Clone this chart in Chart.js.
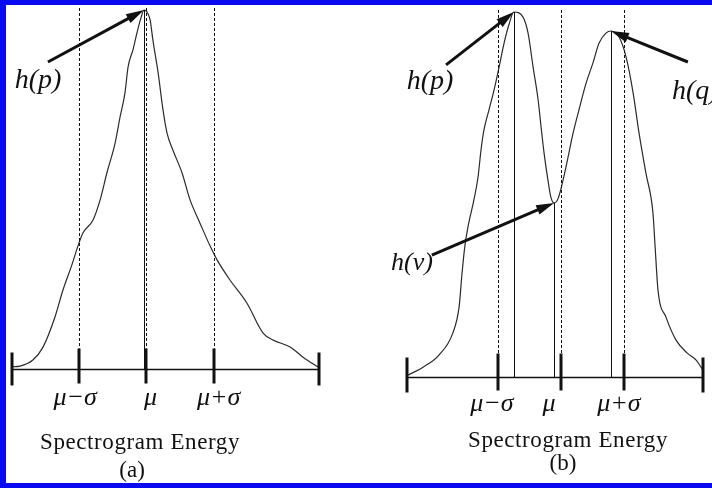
<!DOCTYPE html>
<html>
<head>
<meta charset="utf-8">
<script src="https://cdn.jsdelivr.net/npm/chart.js@4.4.1/dist/chart.umd.min.js"></script>
<style>
  html, body { margin: 0; padding: 0; background: #fff; }
  #frame { position: relative; width: 712px; height: 488px; overflow: hidden; background: #fff; }
  #frame canvas { position: absolute; top: 0; }
  #edge { position: absolute; left: 0; top: 0; width: 712px; height: 488px; box-sizing: border-box;
          border-style: solid; border-color: #0a0af0; border-width: 5px 0 5px 6px; pointer-events: none; }
</style>
</head>
<body>
<div id="frame">
  <canvas id="panelA" width="356" height="488" style="left:0"></canvas>
  <canvas id="panelB" width="356" height="488" style="left:356px"></canvas>
  <div id="edge"></div>
</div>
<script>
// ---- (a) unimodal spectrogram-energy histogram ----
const energyA = [0, 2.6, 6.8, 10.1, 14.0, 16.6, 19.5, 21.5, 23.1, 26.4, 28.7, 30.9, 33.6, 35.2, 36.8,
                 37.8, 39.4, 40.7, 42.0, 43.0, 44.0, 45.0, 45.9, 47.6, 49.2, 50.5, 52.4, 55.4, 58.0,
                 61.2, 64.5, 66.8, 71.0, 76.5, 81.8, 85.0, 90.6, 94.8, 100];
const countA  = [0.6, 0.8, 2.5, 6.1, 14.5, 22.0, 29.0, 34.3, 37.9, 41.5, 47.1, 54.6, 63.0, 70.2, 76.9,
                 84.1, 88.9, 93.6, 97.8, 100, 99.4, 97.2, 91.6, 82.5, 72.1, 65.7, 61.0, 54.6, 47.1,
                 40.7, 34.3, 30.4, 24.8, 18.4, 10.0, 8.1, 6.1, 3.3, 0.4];
const muA = 43.8, sigmaA = 21.9;
const markLabelsA = ['h(p)'];
const markXA = [43.0];
const markYA = [100];

// ---- (b) bimodal spectrogram-energy histogram ----
const energyB = [0.3, 5.4, 10.8, 15.5, 17.6, 18.6, 19.6, 20.6, 22.6, 24.0, 25.0, 26.0, 27.7, 29.4, 31.1,
                 32.8, 34.5, 36.1, 39.2, 40.9, 42.6, 44.3, 45.3, 46.3, 47.6, 48.6, 49.7, 51.0, 53.7,
                 56.1, 58.1, 60.5, 62.8, 64.9, 67.2, 68.9, 71.6, 74.0, 76.4, 78.4, 80.7, 83.1, 83.8,
                 84.8, 87.5, 90.9, 94.6, 97.6, 100];
const countB  = [0.5, 2.7, 6.0, 12.1, 19.2, 28.5, 36.2, 41.1, 48.5, 54.8, 62.2, 67.7, 73.2, 78.6, 84.9,
                 91.5, 96.7, 100, 98.6, 94.2, 84.9, 75.9, 68.5, 61.4, 54.0, 49.3, 47.7, 48.8, 57.5,
                 66.8, 73.2, 80.5, 86.0, 91.5, 94.2, 94.8, 93.2, 87.7, 77.8, 66.8, 55.9, 44.9, 36.0,
                 23.8, 16.4, 10.1, 6.6, 4.7, 1.9];
const muB = 52.0, sigmaB = 21.3;
const markLabelsB = ['h(p)', 'h(v)', 'h(q)'];
const markXB = [36.1, 49.7, 68.9];
const markYB = [100, 47.7, 94.8];

const tickLabels = ['\u03BC\u2212\u03C3', '\u03BC', '\u03BC+\u03C3'];
const axisTitle = 'Spectrogram Energy';

const SERIF = '"Liberation Serif", "Times New Roman", serif';

// Draws the energy axis, mean/sigma guides, drop lines and labelled arrows.
const diagramPlugin = {
  id: 'diagram',
  afterDatasetsDraw(chart, args, o) {
    const { ctx, chartArea } = chart;
    const xs = chart.scales.x, ys = chart.scales.y;
    const X = v => xs.getPixelForValue(v);
    const Y = v => ys.getPixelForValue(v);
    const axisY = Math.round(Y(0)) + 0.5;
    const sharp = v => Math.round(v) + 0.5;
    const guides = [o.mu - o.sigma, o.mu, o.mu + o.sigma];

    ctx.save();
    ctx.strokeStyle = '#111';
    ctx.fillStyle = '#111';

    // dashed guides at mu - sigma, mu, mu + sigma
    ctx.lineWidth = 1;
    ctx.setLineDash([3, 2]);
    guides.forEach(g => {
      const px = sharp(X(g));
      ctx.beginPath();
      ctx.moveTo(px, chartArea.top - 2);
      ctx.lineTo(px, axisY - o.tickUp);
      ctx.stroke();
    });
    ctx.setLineDash([]);

    // solid drop lines from the marked bins to the axis
    o.markX.forEach((mx, i) => {
      const px = sharp(X(mx));
      ctx.beginPath();
      ctx.moveTo(px, Y(o.markY[i]));
      ctx.lineTo(px, axisY);
      ctx.stroke();
    });

    // energy axis
    ctx.lineWidth = 1.5;
    ctx.beginPath();
    ctx.moveTo(X(xs.min), axisY);
    ctx.lineTo(X(xs.max), axisY);
    ctx.stroke();

    // end stops and sigma ticks
    ctx.lineWidth = 3;
    [xs.min, xs.max].forEach(v => {
      const px = Math.round(X(v));
      ctx.beginPath();
      ctx.moveTo(px, axisY - o.endUp);
      ctx.lineTo(px, axisY + o.endDown);
      ctx.stroke();
    });
    guides.forEach(g => {
      const px = Math.round(X(g));
      ctx.beginPath();
      ctx.moveTo(px, axisY - o.tickUp);
      ctx.lineTo(px, axisY + o.tickDown);
      ctx.stroke();
    });

    // tick labels
    ctx.textAlign = 'center';
    ctx.textBaseline = 'middle';
    ctx.font = 'italic 26px ' + SERIF;
    guides.forEach((g, i) => {
      ctx.fillText(tickLabels[i], X(g) + o.labelShift[i], axisY + o.labelGap);
    });

    // axis title and panel letter
    ctx.font = '23px ' + SERIF;
    ctx.letterSpacing = '0.6px';
    ctx.fillText(axisTitle, X(o.titleX), axisY + o.titleGap);
    ctx.letterSpacing = '0px';
    ctx.fillText(o.letter, X(o.letterX), axisY + o.letterGap);

    // labelled arrows pointing at the marked bins
    o.arrows.forEach(a => {
      const hx = X(o.markX[a.mark]), hy = Y(o.markY[a.mark]);
      const tx = X(a.tail[0]), ty = Y(a.tail[1]);
      const ang = Math.atan2(hy - ty, hx - tx);
      const len = 18, half = 5;
      const bx = hx - len * Math.cos(ang), by = hy - len * Math.sin(ang);
      ctx.lineWidth = 3;
      ctx.beginPath();
      ctx.moveTo(tx, ty);
      ctx.lineTo(bx + 2 * Math.cos(ang), by + 2 * Math.sin(ang));
      ctx.stroke();
      ctx.beginPath();
      ctx.moveTo(hx, hy);
      ctx.lineTo(bx + half * Math.sin(ang), by - half * Math.cos(ang));
      ctx.lineTo(bx - half * Math.sin(ang), by + half * Math.cos(ang));
      ctx.closePath();
      ctx.fill();

      ctx.font = 'italic ' + a.size + 'px ' + SERIF;
      ctx.textAlign = a.align;
      ctx.textBaseline = 'middle';
      ctx.fillText(o.markLabels[a.mark], X(a.label[0]), Y(a.label[1]));
    });

    ctx.restore();
  }
};

function makePanel(id, energy, count, padding, diagram) {
  return new Chart(document.getElementById(id), {
    type: 'line',
    data: {
      datasets: [{
        data: energy.map((x, i) => ({ x, y: count[i] })),
        borderColor: '#2b2b2b',
        borderWidth: 1.2,
        pointRadius: 0,
        cubicInterpolationMode: 'monotone',
        fill: false,
        clip: false
      }]
    },
    options: {
      responsive: false,
      animation: false,
      devicePixelRatio: 1,
      layout: { padding },
      scales: {
        x: { type: 'linear', min: 0, max: 100, display: false },
        y: { type: 'linear', min: 0, max: 100, display: false }
      },
      plugins: {
        legend: { display: false },
        tooltip: { enabled: false },
        diagram
      }
    },
    plugins: [diagramPlugin]
  });
}

makePanel('panelA', energyA, countA,
  { left: 12, right: 37, top: 10, bottom: 119 },
  {
    mu: muA, sigma: sigmaA,
    markX: markXA, markY: markYA, markLabels: markLabelsA,
    tickUp: 21, tickDown: 14, endUp: 17, endDown: 16,
    labelShift: [-4, 4, 5], labelGap: 29,
    titleX: 41.7, titleGap: 73, letter: '(a)', letterX: 39.1, letterGap: 101,
    arrows: [
      { mark: 0, tail: [11.7, 85.5], label: [8.5, 80.4], align: 'center', size: 28 }
    ]
  });

makePanel('panelB', energyB, countB,
  { left: 51, right: 9, top: 12, bottom: 111 },
  {
    mu: muB, sigma: sigmaB,
    markX: markXB, markY: markYB, markLabels: markLabelsB,
    tickUp: 24, tickDown: 13, endUp: 20, endDown: 15,
    labelShift: [-6, -12, -5], labelGap: 27,
    titleX: 54.4, titleGap: 63, letter: '(b)', letterX: 52.7, letterGap: 86,
    arrows: [
      { mark: 0, tail: [13.2, 85.5], label: [7.8, 80.8], align: 'center', size: 28 },
      { mark: 1, tail: [8.4, 33.4], label: [1.7, 31.2], align: 'center', size: 26 },
      { mark: 2, tail: [94.9, 86.3], label: [89.5, 78.1], align: 'left', size: 28 }
    ]
  });
</script>
</body>
</html>
